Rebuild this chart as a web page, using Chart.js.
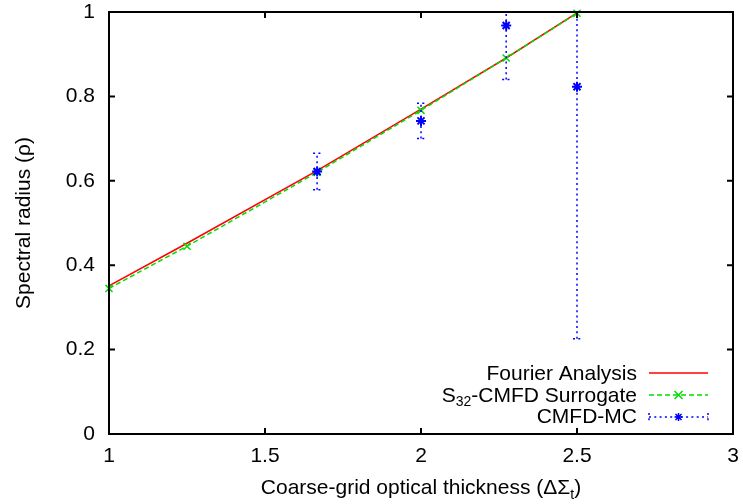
<!DOCTYPE html>
<html lang="en">
<head>
  <meta charset="UTF-8" />
  <title>Spectral radius vs coarse-grid optical thickness</title>
  <script src="https://cdn.jsdelivr.net/npm/chart.js"></script>
  <style>
    html, body { margin: 0; padding: 0; background: #fff; }
    #wrap { width: 743px; height: 504px; }
  </style>
</head>
<body>
  <div id="wrap"><canvas id="rhoChart"></canvas></div>

  <script>
    // coarse-grid optical thickness values
    const thickness = [1, 1.25, 1.667, 2, 2.273, 2.5];
    const fourier = [0.351, 0.452, 0.624, 0.770, 0.891, 0.998];
    const surrogate = [0.345, 0.445, 0.620, 0.767, 0.891, 0.997];

    // CMFD-MC estimates with their error half-widths
    const mcThickness = [1.667, 2, 2.273, 2.5];
    const mcRho = [0.622, 0.742, 0.968, 0.823];
    const mcErr = [0.043, 0.042, 0.128, 0.597];

    const xTicks = [1, 1.5, 2, 2.5, 3];
    const yTicks = [0, 0.2, 0.4, 0.6, 0.8, 1];

    const FONT = '"Liberation Sans", Arial, Helvetica, sans-serif';
    const RED = "#ff0000", GREEN = "#00dd00", BLUE = "#0000ff";
    const DOT = [2, 3.3], DASH = [5, 3];

    function pts(xs, ys) {
      return xs.map((x, i) => ({ x: x, y: ys[i] }));
    }

    // star marker like gnuplot's pt 3
    function star(ctx, x, y, r) {
      ctx.beginPath();
      ctx.moveTo(x - r, y); ctx.lineTo(x + r, y);
      ctx.moveTo(x, y - r); ctx.lineTo(x, y + r);
      const d = r * 0.75;
      ctx.moveTo(x - d, y - d); ctx.lineTo(x + d, y + d);
      ctx.moveTo(x - d, y + d); ctx.lineTo(x + d, y - d);
      ctx.stroke();
    }

    function cross(ctx, x, y, r) {
      ctx.beginPath();
      ctx.moveTo(x - r, y - r); ctx.lineTo(x + r, y + r);
      ctx.moveTo(x - r, y + r); ctx.lineTo(x + r, y - r);
      ctx.stroke();
    }

    // fixed scale sizes, no label overhang padding
    function fixBox(w, h) {
      return s => {
        if (w !== null) s.width = w;
        if (h !== null) s.height = h;
        s.paddingTop = 0; s.paddingBottom = 0;
        s.paddingLeft = 0; s.paddingRight = 0;
      };
    }

    const gnuplotLook = {
      id: "gnuplotLook",
      afterDatasetsDraw(chart) {
        const { ctx, chartArea: a, scales } = chart;
        const xs = scales.x, ys = scales.y;
        ctx.save();
        ctx.strokeStyle = BLUE;
        ctx.lineWidth = 1.5;
        ctx.setLineDash(DOT);
        mcThickness.forEach((t, i) => {
          const px = xs.getPixelForValue(t);
          const hi = ys.getPixelForValue(mcRho[i] + mcErr[i]);
          const lo = ys.getPixelForValue(mcRho[i] - mcErr[i]);
          ctx.beginPath();
          ctx.moveTo(px, Math.min(lo, a.bottom));
          ctx.lineTo(px, Math.max(hi, a.top));
          ctx.stroke();
          [hi, lo].forEach(py => {
            if (py < a.top || py > a.bottom) return;
            ctx.beginPath();
            ctx.moveTo(px - 4, py);
            ctx.lineTo(px + 4, py);
            ctx.stroke();
          });
        });
        ctx.restore();
      },
      afterDraw(chart) {
        const { ctx, chartArea: a, scales } = chart;
        const xs = scales.x, ys = scales.y;
        ctx.save();

        // border and inward ticks on all four sides
        ctx.strokeStyle = "#000";
        ctx.lineWidth = 2;
        ctx.strokeRect(a.left, a.top, a.right - a.left, a.bottom - a.top);
        ctx.beginPath();
        xTicks.forEach(v => {
          const px = xs.getPixelForValue(v);
          ctx.moveTo(px, a.bottom); ctx.lineTo(px, a.bottom - 6);
          ctx.moveTo(px, a.top); ctx.lineTo(px, a.top + 6);
        });
        yTicks.forEach(v => {
          const py = ys.getPixelForValue(v);
          ctx.moveTo(a.left, py); ctx.lineTo(a.left + 6, py);
          ctx.moveTo(a.right, py); ctx.lineTo(a.right - 6, py);
        });
        ctx.stroke();

        // axis titles
        ctx.fillStyle = "#000";
        ctx.textBaseline = "alphabetic";
        const main = "Coarse-grid optical thickness (\u0394\u03a3";
        ctx.font = "21px " + FONT;
        const wMain = ctx.measureText(main).width;
        ctx.font = "14px " + FONT;
        const wSub = ctx.measureText("t").width;
        ctx.font = "21px " + FONT;
        const wEnd = ctx.measureText(")").width;
        const tx = (a.left + a.right) / 2 - (wMain + wSub + wEnd) / 2;
        const ty = 494;
        ctx.textAlign = "left";
        ctx.fillText(main, tx, ty);
        ctx.font = "14px " + FONT;
        ctx.fillText("t", tx + wMain, ty + 5);
        ctx.font = "21px " + FONT;
        ctx.fillText(")", tx + wMain + wSub, ty);

        ctx.save();
        ctx.translate(30, (a.top + a.bottom) / 2);
        ctx.rotate(-Math.PI / 2);
        ctx.textAlign = "center";
        ctx.fillText("Spectral radius (\u03c1)", 0, 0);
        ctx.restore();

        // key, bottom right
        const textRight = 637, s0 = 649, s1 = 708, sMid = (s0 + s1) / 2;
        ctx.textAlign = "right";
        ctx.fillText("Fourier Analysis", textRight, 380);
        ctx.fillText("CMFD-MC", textRight, 423);
        const rest = "-CMFD Surrogate";
        const wRest = ctx.measureText(rest).width;
        ctx.fillText(rest, textRight, 401.5);
        ctx.font = "14px " + FONT;
        const w32 = ctx.measureText("32").width;
        ctx.fillText("32", textRight - wRest, 406);
        ctx.font = "21px " + FONT;
        ctx.fillText("S", textRight - wRest - w32, 401.5);

        ctx.lineWidth = 1.5;
        ctx.strokeStyle = RED;
        ctx.beginPath(); ctx.moveTo(s0, 373); ctx.lineTo(s1, 373); ctx.stroke();

        ctx.strokeStyle = GREEN;
        ctx.setLineDash(DASH);
        ctx.beginPath(); ctx.moveTo(s0, 395); ctx.lineTo(s1, 395); ctx.stroke();
        ctx.setLineDash([]);
        cross(ctx, sMid, 395, 4);

        ctx.strokeStyle = BLUE;
        ctx.setLineDash(DOT);
        ctx.beginPath(); ctx.moveTo(s0, 417); ctx.lineTo(s1, 417); ctx.stroke();
        ctx.beginPath();
        ctx.moveTo(s0, 413); ctx.lineTo(s0, 421);
        ctx.moveTo(s1, 413); ctx.lineTo(s1, 421);
        ctx.stroke();
        ctx.setLineDash([]);
        star(ctx, sMid, 417, 4);

        ctx.restore();
      }
    };

    const ctx = document.getElementById("rhoChart").getContext("2d");
    new Chart(ctx, {
      type: "scatter",
      data: {
        datasets: [
          {
            label: "Fourier Analysis",
            data: pts(thickness, fourier),
            showLine: true,
            borderColor: RED,
            borderWidth: 1.5,
            pointRadius: 0,
            order: 3
          },
          {
            label: "S32-CMFD Surrogate",
            data: pts(thickness, surrogate),
            showLine: true,
            borderColor: GREEN,
            backgroundColor: GREEN,
            borderWidth: 1.5,
            borderDash: DASH,
            pointStyle: "crossRot",
            pointRadius: 5,
            pointBorderWidth: 1.5,
            clip: 8,
            order: 2
          },
          {
            label: "CMFD-MC",
            data: pts(mcThickness, mcRho),
            showLine: false,
            borderColor: BLUE,
            backgroundColor: BLUE,
            pointStyle: "star",
            pointRadius: 5,
            pointBorderWidth: 2,
            clip: 8,
            order: 1
          }
        ]
      },
      options: {
        responsive: true,
        maintainAspectRatio: false,
        animation: false,
        layout: { padding: { left: 0, right: 10, top: 12, bottom: 0 } },
        plugins: {
          legend: { display: false },
          tooltip: { enabled: false }
        },
        scales: {
          x: {
            type: "linear",
            min: 1,
            max: 3,
            afterBuildTicks: s => { s.ticks = xTicks.map(v => ({ value: v })); },
            afterFit: fixBox(null, 70),
            grid: { display: false, drawTicks: false },
            border: { display: false },
            ticks: {
              color: "#000",
              padding: 10,
              maxRotation: 0,
              font: { family: FONT, size: 21 },
              callback: v => String(v)
            }
          },
          y: {
            type: "linear",
            min: 0,
            max: 1,
            afterBuildTicks: s => { s.ticks = yTicks.map(v => ({ value: v })); },
            afterFit: fixBox(109, null),
            grid: { display: false, drawTicks: false },
            border: { display: false },
            ticks: {
              color: "#000",
              padding: 14,
              font: { family: FONT, size: 21 },
              callback: v => String(v)
            }
          }
        }
      },
      plugins: [gnuplotLook]
    });
  </script>
</body>
</html>
